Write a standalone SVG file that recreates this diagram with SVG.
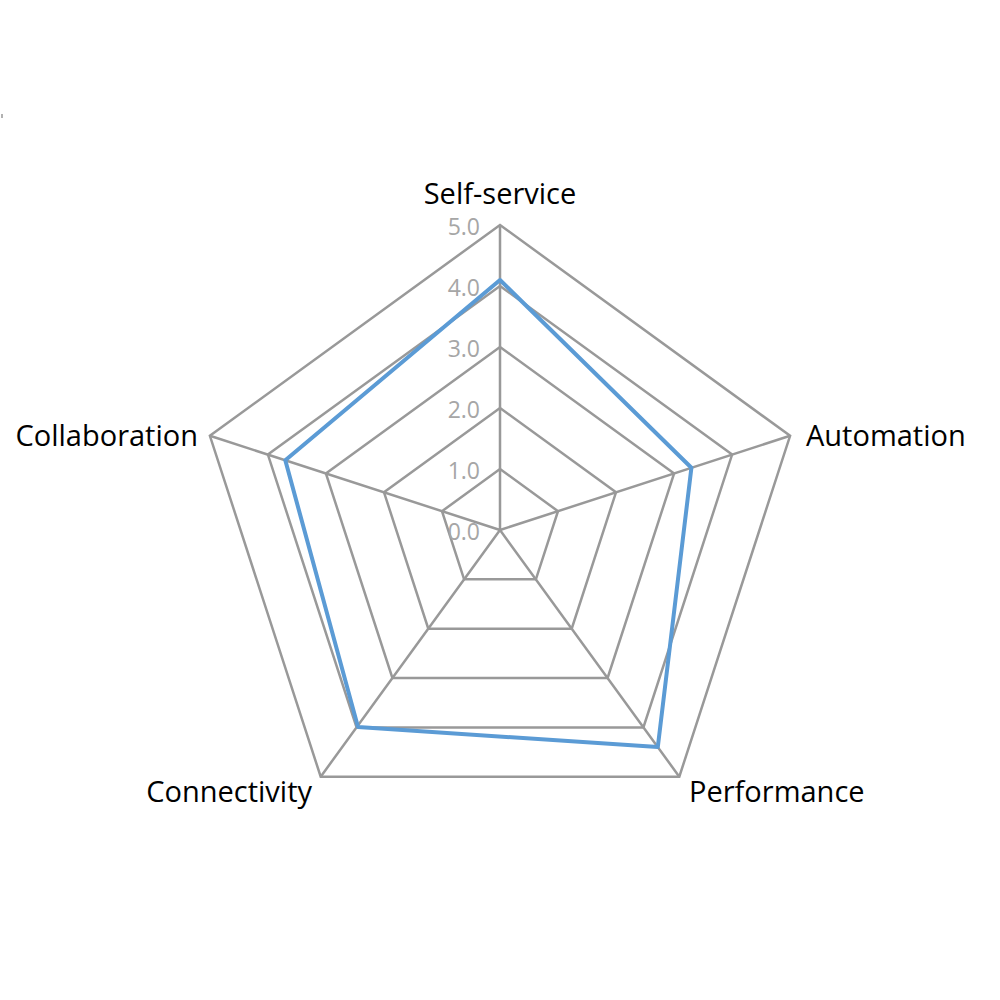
<svg xmlns="http://www.w3.org/2000/svg" width="1000" height="1000" viewBox="0 0 1000 1000">
<style>
.g{fill:none;stroke:#999999;stroke-width:2.5}
.t{font-family:"Open Sans","Liberation Sans",sans-serif;font-size:23px;fill:#a6a6a6;text-anchor:end}
.c{font-family:"Open Sans","Liberation Sans",sans-serif;font-size:29px;fill:#000}
</style>
<rect width="1000" height="1000" fill="#fff"/>
<g id="grid">
<polygon class="g" points="500,469 558,511.2 535.9,579.3 464.1,579.3 442,511.2"/>
<polygon class="g" points="500,408 616,492.3 571.7,628.7 428.3,628.7 384,492.3"/>
<polygon class="g" points="500,347 674.1,473.5 607.6,678 392.4,678 325.9,473.5"/>
<polygon class="g" points="500,286 732.1,454.6 643.4,727.4 356.6,727.4 267.9,454.6"/>
<polygon class="g" points="500,225 790.1,435.8 679.3,776.7 320.7,776.7 209.9,435.8"/>
</g>
<g id="connectors">
<path class="g" d="M500,530L500,225M500,530L790.1,435.8M500,530L679.3,776.7M500,530L320.7,776.7M500,530L209.9,435.8"/>
</g>
<g id="ticks">
<text class="t" x="480" y="540">0.0</text>
<text class="t" x="480" y="479">1.0</text>
<text class="t" x="480" y="418">2.0</text>
<text class="t" x="480" y="357">3.0</text>
<text class="t" x="480" y="296">4.0</text>
<text class="t" x="480" y="235">5.0</text>
</g>
<g id="series">
<polygon points="500,280 691.4,467.8 657.8,747.1 358,727 285.3,460.3" fill="none" stroke="#5b9bd5" stroke-width="4" stroke-linejoin="round"/>
</g>
<g id="labels">
<text class="c" x="500" y="204" text-anchor="middle">Self-service</text>
<text class="c" x="806" y="446">Automation</text>
<text class="c" x="689" y="802">Performance</text>
<text class="c" x="312" y="802" text-anchor="end">Connectivity</text>
<text class="c" x="198" y="446" text-anchor="end">Collaboration</text>
</g>
<line x1="2" y1="114" x2="2" y2="118" stroke="#999" stroke-width="1.5"/>
</svg>
